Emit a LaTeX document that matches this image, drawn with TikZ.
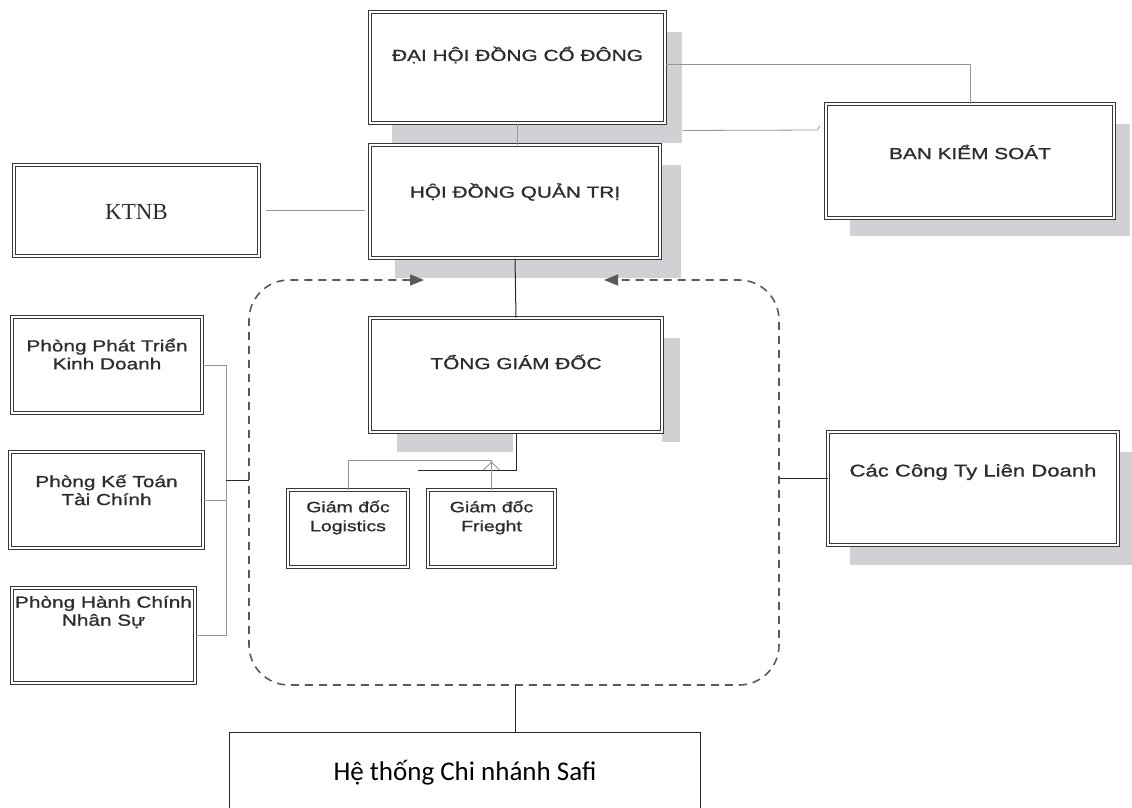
\documentclass[tikz,border=0pt]{standalone}
\usepackage{fontspec}
\setmainfont{Liberation Sans}
\newfontfamily\bxf[FakeStretch=1.3,FakeBold=1]{Liberation Sans}
\newfontfamily\tmf{Liberation Serif}
\newfontfamily\clf{Carlito}
\usetikzlibrary{arrows.meta,calc}
\definecolor{shd}{RGB}{208,208,213}
\definecolor{txt}{RGB}{45,45,45}
\definecolor{bord}{RGB}{55,55,55}
\definecolor{thin}{RGB}{150,150,150}
\definecolor{dk}{RGB}{40,40,40}
\begin{document}
\begin{tikzpicture}[x=1pt,y=-1pt,
  bx/.style={draw=bord, double=white, double distance=1.4pt, line width=1pt, fill=white, inner sep=0pt},
  lbl/.style={text=txt, font=\bxf\fontsize{16}{18}\selectfont, align=center, inner sep=0pt},
  shadow/.style={fill=shd, draw=none},
  thinln/.style={draw=thin, line width=0.8pt},
  darkln/.style={draw=dk, line width=1pt},
  dsh/.style={draw=black!65, line width=1.6pt, dash pattern=on 8pt off 6pt},
  tipped/.style={{Triangle[length=14pt,width=11pt]}-{Triangle[length=14pt,width=11pt]}}
]
\useasboundingbox[fill=white] (0,0) rectangle (1132,807);

% shadows
\fill[shadow] (392,32) rectangle (682,143);
\fill[shadow] (395,165) rectangle (681,278);
\fill[shadow] (850,124) rectangle (1130,236);
\fill[shadow] (397,432) rectangle (513,452);
\fill[shadow] (662,338) rectangle (680,442);
\fill[shadow] (850,452) rectangle (1132,565);

% boxes
\node[bx, minimum width=295pt, minimum height=111pt] (dh) at (517.5,67.5) {};
\node[bx, minimum width=290pt, minimum height=113pt] (hd) at (515,201.5) {};
\node[bx, minimum width=288pt, minimum height=114pt] (bks) at (970,161) {};
\node[bx, minimum width=245pt, minimum height=91pt] (ktnb) at (136.5,210.5) {};
\node[bx, minimum width=292pt, minimum height=114pt] (tgd) at (516,375) {};
\node[bx, minimum width=120pt, minimum height=77pt] (gl) at (348,528.5) {};
\node[bx, minimum width=127pt, minimum height=77pt] (gf) at (491.5,528.5) {};
\node[bx, minimum width=190pt, minimum height=96pt] (p1) at (107,365) {};
\node[bx, minimum width=193pt, minimum height=96pt] (p2) at (106.5,500) {};
\node[bx, minimum width=183pt, minimum height=95pt] (p3) at (103.5,635.5) {};
\node[bx, minimum width=290pt, minimum height=113pt] (cty) at (973,488.5) {};
\node[minimum width=470pt, minimum height=84pt, inner sep=0pt] (safi) at (465,775) {};

% texts
\node[lbl] (dht) at (517.5,55) {ĐẠI HỘI ĐỒNG CỔ ĐÔNG};
\node[lbl] (hdt) at (515,192) {HỘI ĐỒNG QUẢN TRỊ};
\node[lbl] (bkst) at (970,152) {BAN KIỂM SOÁT};
\node[text=txt, font=\tmf\fontsize{23}{26}\selectfont, inner sep=0pt] (ktnbt) at (136.5,212) {KTNB};
\node[lbl] (tgdt) at (516,362) {TỔNG GIÁM ĐỐC};
\node[lbl, font=\bxf\fontsize{15}{19}\selectfont] (glt) at (348,517.5) {Giám đốc\\Logistics};
\node[lbl, font=\bxf\fontsize{15}{19}\selectfont] (gft) at (491.5,517.5) {Giám đốc\\Frieght};
\node[lbl] (p1t) at (107,354) {Phòng Phát Triển\\Kinh Doanh};
\node[lbl] (p2t) at (106.5,490) {Phòng Kế Toán\\Tài Chính};
\node[lbl] (p3t) at (103.5,612) {Phòng Hành Chính\\Nhân Sự};
\node[lbl, font=\bxf\fontsize{17}{20}\selectfont] (ctyt) at (973,472) {Các Công Ty Liên Doanh};
\node[text=black, font=\clf\fontsize{27}{30}\selectfont, inner sep=0pt] (safit) at (465,773) {Hệ thống Chi nhánh Safi};
\draw[line width=1.3pt, draw=black!85] (safi.south west) -- (safi.north west) -- (safi.north east) -- (safi.south east);

% dashed container
\coordinate (cTL) at (424,280);
\coordinate (cTR) at (604,280);
\coordinate (cL) at (249,480);
\coordinate (cR) at (779,478);
\coordinate (cB) at (515,685);
\draw[dsh, tipped, rounded corners=40pt] (cTL) -- (249,280) -- (249,685) -- (779,685) -- (779,280) -- (cTR);

% connectors
\draw[thinln] (dh.south) -- (dh.south |- hd.north);
\draw[thinln] ($(dh.north east)+(0,53)$) -| (bks.north);
\coordinate (bkl) at (817,130);
\draw[thinln] ($(dh.south east)+(17,7)$) -- (bkl) -- ++(3,-4);
\draw[thinln, shorten <=6pt, shorten >=5pt] (ktnb.east) -- (ktnb.east -| hd.west);
\draw[darkln] (hd.south) -- (tgd.north);
\coordinate (tj) at (418,470);
\draw[darkln] (tgd.south) |- (tj);
\coordinate (gj) at (491.5,460);
\draw[thinln] (gl.north) |- (gj) -- (gf.north);
\draw[thinln] ($(gj)+(-8,10)$) -- ($(gj)+(0,2)$) -- ($(gj)+(8,10)$);
\coordinate (lb) at (226,480);
\draw[thinln] (p1.east) -| (lb);
\draw[thinln] (p3.east) -| (lb);
\draw[thinln] (p2.east) -- (p2.east -| lb);
\draw[darkln] (lb) -- (cL);
\draw[darkln] (cR) -- (cR -| cty.west);
\draw[darkln] (cB) -- (cB |- safi.north);
\end{tikzpicture}
\end{document}
